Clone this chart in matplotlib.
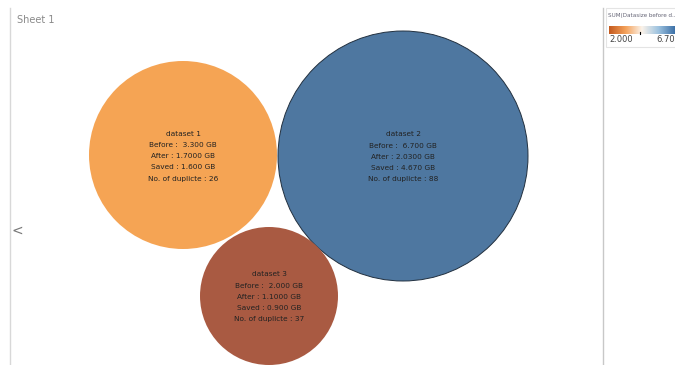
import matplotlib
matplotlib.use('Agg')
import numpy as np
from matplotlib import pyplot as plt
import matplotlib.patches as mpatches
from matplotlib.colors import LinearSegmentedColormap

# data
names = ['dataset 1', 'dataset 2', 'dataset 3']
before = ['3.300', '6.700', '2.000']
after = ['1.7000', '2.0300', '1.1000']
saved = ['1.600', '4.670', '0.900']
dups = [26, 88, 37]
legend_min = '2.000'
legend_max = '6.70'

# layout (pixels)
centers = [(183, 155), (403, 156), (269, 296)]
radii = [94, 125, 69]
colors = ['#F5A454', '#4E77A0', '#A95A42']
edges = ['none', '#22303f', 'none']

fig = plt.figure(figsize=(6.75, 3.65), dpi=100)
ax = fig.add_axes([0, 0, 1, 1])
ax.set_xlim(0, 675)
ax.set_ylim(365, 0)
ax.axis('off')

for i in range(3):
    c = mpatches.Circle(centers[i], radii[i], facecolor=colors[i], edgecolor=edges[i],
                        linewidth=0.7, zorder=2)
    ax.add_patch(c)
    txt = (f"{names[i]}\nBefore :  {before[i]} GB\nAfter : {after[i]} GB\n"
           f"Saved : {saved[i]} GB\nNo. of duplicte : {dups[i]}")
    ax.text(centers[i][0], centers[i][1] + 1, txt, ha='center', va='center',
            fontsize=5.3, color='#222222', linespacing=2.05, zorder=3)

# frame lines
ax.plot([10, 10], [8, 365], color='#d8d8d8', lw=1)
ax.plot([603, 603], [8, 365], color='#c8c8c8', lw=1)
ax.text(17, 20, 'Sheet 1', fontsize=7, color='#8a8a8a', va='center')
ax.text(17, 231, '<', fontsize=10, color='#777777', va='center', ha='center')

# legend
ax.add_patch(mpatches.Rectangle((606, 8), 80, 39, facecolor='white', edgecolor='#e4e4e4', lw=0.8))
ax.text(608, 16, 'SUM(Datasize before d..', fontsize=4.1, color='#666677', va='center')
cmap = LinearSegmentedColormap.from_list('ob', ['#C45A1E', '#F4A15A', '#FBF3EA', '#9EC3E0', '#3E72A8'])
grad = np.linspace(0, 1, 200).reshape(1, -1)
ax.imshow(grad, cmap=cmap, extent=(609, 675, 34, 26), aspect='auto', zorder=2)
ax.plot([640, 640], [32, 34], color='black', lw=0.8, zorder=3)
ax.text(609, 40, legend_min, fontsize=6, color='#444444', va='center')
ax.text(675, 40, legend_max, fontsize=6, color='#444444', va='center', ha='right')
ax.set_xlim(0, 675)
ax.set_ylim(365, 0)

fig.savefig('out.png', dpi=100)
